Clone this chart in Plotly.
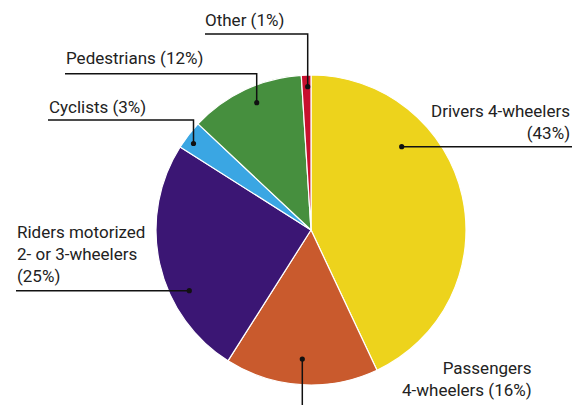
import plotly.graph_objects as go

W, H = 582, 405

categories = ["Drivers 4-wheelers", "Passengers 4-wheelers", "Riders motorized 2- or 3-wheelers",
              "Cyclists", "Pedestrians", "Other"]
shares = [43, 16, 25, 3, 12, 1]
colors = ["#EDD31C", "#C95A2D", "#3B1674", "#3AA6E3", "#468F3E", "#C8102E"]
label_texts = ["Drivers 4-wheelers<br>(43%)", "Passengers<br>4-wheelers (16%)",
               "Riders motorized<br>2- or 3-wheelers<br>(25%)", "Cyclists (3%)",
               "Pedestrians (12%)", "Other (1%)"]

# layout (pixels from top-left)
CX, CY, R = 311, 230, 155
# text anchor: (x, bottom y, xanchor)
text_pos = [(572, 145, "right"), (534, 402, "right"), (15, 288, "left"),
            (46.5, 119, "left"), (64, 70, "left"), (203, 32, "left")]
# leader line polylines, first point is the dot
leaders = [
    [(401.7, 146.7), (572, 146.7)],
    [(302.3, 359), (302.3, 406)],
    [(189.3, 290.7), (16, 290.7)],
    [(193.5, 143.5), (193.5, 120), (48, 120)],
    [(256.7, 102.7), (256.7, 73.7), (65, 73.7)],
    [(307.7, 86.7), (307.7, 34), (205, 34)],
]

FONT = "Roboto, Liberation Sans Narrow, sans-serif"


def px(x):
    return x / W


def py(y):
    return 1 - y / H


fig = go.Figure(go.Pie(
    labels=categories, values=shares, sort=False, direction="clockwise", rotation=0,
    marker=dict(colors=colors, line=dict(color="white", width=1.2)),
    textinfo="none", showlegend=False,
    domain=dict(x=[px(CX - R), px(CX + R)], y=[py(CY + R), py(CY - R)]),
))

shapes = []
annotations = []
for txt, (tx, ty, anc), pts in zip(label_texts, text_pos, leaders):
    path = "M " + " L ".join(f"{px(x)},{py(y)}" for x, y in pts)
    shapes.append(dict(type="path", xref="paper", yref="paper", path=path,
                       line=dict(color="#111", width=1.5)))
    dx, dy = pts[0]
    shapes.append(dict(type="circle", xref="paper", yref="paper",
                       x0=px(dx - 2.6), x1=px(dx + 2.6), y0=py(dy + 2.6), y1=py(dy - 2.6),
                       fillcolor="#111", line=dict(width=0)))
    annotations.append(dict(text=txt, x=px(tx), y=py(ty), xref="paper", yref="paper",
                            xanchor=anc, yanchor="bottom", align=anc, showarrow=False,
                            font=dict(family=FONT, size=17, color="#222")))

fig.update_layout(width=W, height=H, margin=dict(l=0, r=0, t=0, b=0),
                  paper_bgcolor="white", plot_bgcolor="white",
                  shapes=shapes, annotations=annotations)
fig.write_html("out.html", config={"displayModeBar": False},
               post_script="document.body.style.margin='0';")
